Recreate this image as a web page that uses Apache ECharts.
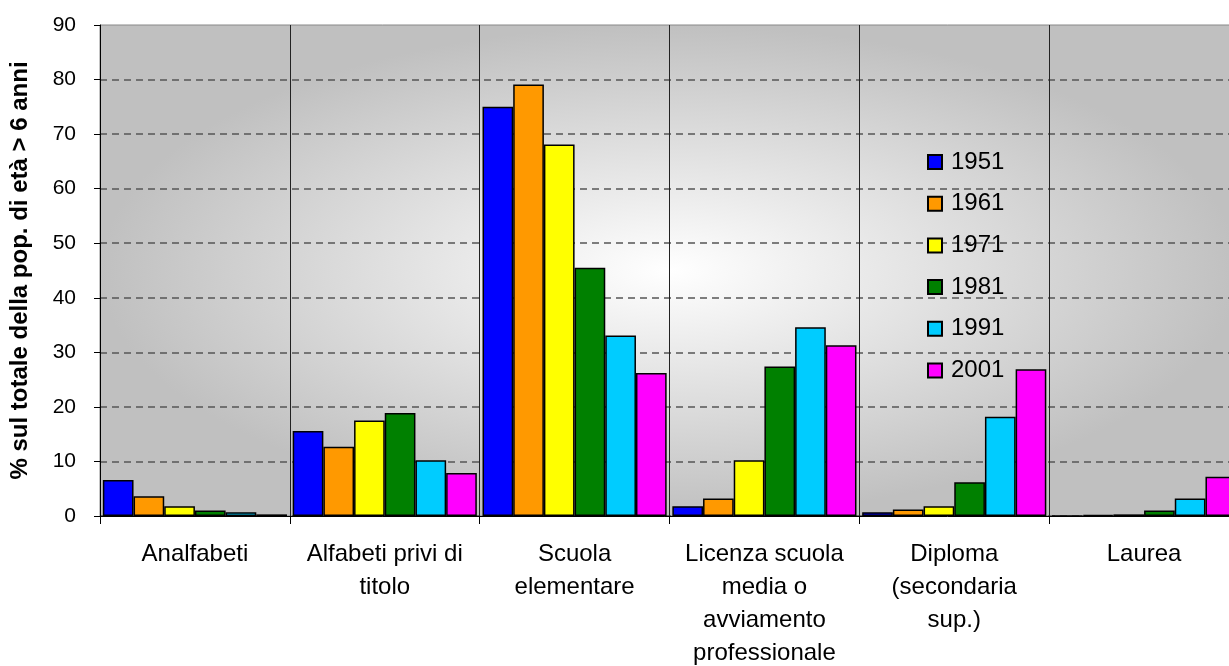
<!DOCTYPE html>
<html>
<head>
<meta charset="utf-8">
<script src="https://cdn.jsdelivr.net/npm/echarts@6/dist/echarts.min.js"></script>
<style>
html,body{margin:0;padding:0;background:#fff;}
#chart{width:1229px;height:666px;}
</style>
</head>
<body>
<div id="chart"></div>
<script>
const categories = ["Analfabeti", "Alfabeti privi di\ntitolo", "Scuola\nelementare", "Licenza scuola\nmedia o\navviamento\nprofessionale", "Diploma\n(secondaria\nsup.)", "Laurea"];
const years = ["1951", "1961", "1971", "1981", "1991", "2001"];
const yearColors = ["#0000ff", "#ff9900", "#ffff00", "#008000", "#00ccff", "#ff00ff"];
const v1951 = [6.6, 15.6, 75.0, 1.8, 0.7, 0];
const v1961 = [3.6, 12.7, 79.1, 3.2, 1.2, 0.2];
const v1971 = [1.8, 17.5, 68.1, 10.2, 1.8, 0.3];
const v1981 = [1.0, 18.9, 45.5, 27.4, 6.2, 1.0];
const v1991 = [0.7, 10.2, 33.1, 34.6, 18.2, 3.2];
const v2001 = [0.3, 7.9, 26.2, 31.3, 26.9, 7.2];
const yTitle = "% sul totale della pop. di età > 6 anni";

const seriesValues = [v1951, v1961, v1971, v1981, v1991, v2001];
const FONT = "'Liberation Sans', Arial, sans-serif";

const chart = echarts.init(document.getElementById('chart'), null, {renderer: 'canvas'});
const gridL = 100, gridT = 25, gridW = 1139, gridH = 491;

chart.setOption({
  animation: false,
  backgroundColor: '#ffffff',
  textStyle: {fontFamily: FONT, color: '#000'},
  graphic: [{
    type: 'rect',
    x: gridL, y: gridT,
    scaleX: gridW / gridH, scaleY: 1,
    shape: {x: 0, y: 0, width: gridH, height: gridH},
    style: {
      fill: {
        type: 'radial', x: 0.5, y: 0.5, r: 0.5,
        colorStops: [{offset: 0, color: '#ffffff'}, {offset: 1, color: '#c0c0c0'}]
      }
    },
    silent: true,
    z: -10
  }],
  grid: {
    left: gridL, top: gridT, width: gridW, height: gridH,
    containLabel: false, outerBoundsMode: 'none',
    show: true, backgroundColor: 'transparent', borderColor: '#888', borderWidth: 1
  },
  legend: {
    data: years,
    orient: 'vertical',
    left: 922, top: 145,
    itemWidth: 14, itemHeight: 14, itemGap: 17.7,
    icon: 'rect',
    textStyle: {fontFamily: FONT, fontSize: 24, color: '#000', lineHeight: 24, padding: [0, 0, 0, 4]}
  },
  xAxis: {
    type: 'category',
    data: categories,
    boundaryGap: true,
    axisLine: {show: true, lineStyle: {color: '#000', width: 1}},
    axisTick: {show: true, length: 8, interval: 0, lineStyle: {color: '#000'}},
    splitLine: {show: true, interval: 0, lineStyle: {color: '#222', width: 1}},
    axisLabel: {interval: 0, fontFamily: FONT, fontSize: 24, lineHeight: 33, margin: 22, color: '#000'}
  },
  yAxis: {
    type: 'value',
    min: 0, max: 90, interval: 10,
    name: yTitle,
    nameLocation: 'middle',
    nameRotate: 90,
    nameGap: 68,
    nameTextStyle: {fontFamily: FONT, fontSize: 24, fontWeight: 'bold', color: '#000'},
    axisLine: {show: true, lineStyle: {color: '#000', width: 1}},
    axisTick: {show: true, length: 6, lineStyle: {color: '#000'}},
    splitLine: {show: true, showMaxLine: false, lineStyle: {color: '#555', width: 1.5, type: [7, 5]}},
    axisLabel: {fontFamily: FONT, fontSize: 21, margin: 24, color: '#000'}
  },
  series: years.map((y, i) => ({
    name: y,
    type: 'bar',
    data: seriesValues[i],
    barGap: '0%',
    barCategoryGap: '3%',
    itemStyle: {color: yearColors[i], borderColor: '#000', borderWidth: 1.5},
    emphasis: {disabled: true}
  }))
});
</script>
</body>
</html>
